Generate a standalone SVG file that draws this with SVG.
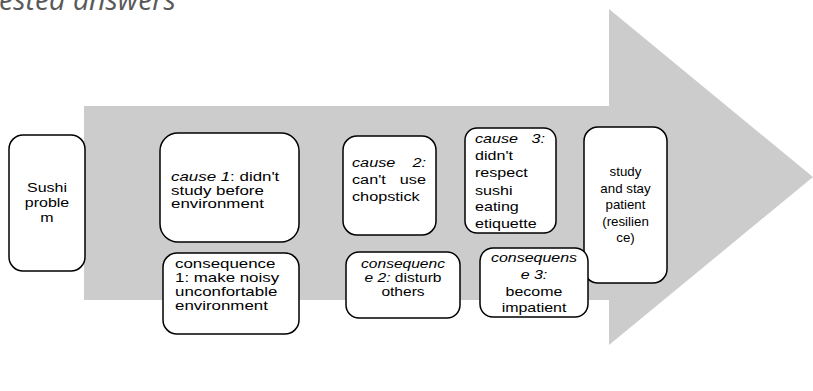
<svg xmlns="http://www.w3.org/2000/svg" width="813" height="391" viewBox="0 0 813 391">
<style>
.box{fill:#fff;stroke:#000;stroke-width:1.5}
.t{font-family:"Liberation Sans",Arial,sans-serif;font-size:13.3px;fill:#000}
.c{text-anchor:middle}
.e{text-anchor:end}
.i{font-style:italic}
.title{font-family:"Open Sans","Noto Sans",sans-serif;font-style:italic;font-size:28.5px;fill:#595959}
</style>
<rect width="813" height="391" fill="#fff"/>
<text class="title" x="-1" y="10">ested answers</text>
<g id="connectors">
<polygon points="84,106 609,106 609,9 813,177 609,345 609,300 84,300" fill="#cccccc"/>
</g>
<g id="sushi">
<rect class="box" x="9" y="135" width="76" height="136" rx="14"/>
<text class="t c" transform="translate(47,192) scale(1.2,1)">Sushi</text>
<text class="t c" transform="translate(47,207) scale(1.2,1)">proble</text>
<text class="t c" transform="translate(47,222) scale(1.2,1)">m</text>
</g>
<g id="cause1">
<rect class="box" x="160" y="133" width="139" height="109" rx="18"/>
<text class="t" transform="translate(171,181) scale(1.27,1)"><tspan class="i">cause 1</tspan>: didn't</text>
<text class="t" transform="translate(171,194.5) scale(1.27,1)">study before</text>
<text class="t" transform="translate(171,208) scale(1.27,1)">environment</text>
</g>
<g id="cons1">
<rect class="box" x="163" y="253" width="136" height="81" rx="14"/>
<text class="t" transform="translate(175,268) scale(1.27,1)">consequence</text>
<text class="t" transform="translate(175,282) scale(1.27,1)">1: make noisy</text>
<text class="t" transform="translate(175,296) scale(1.27,1)">unconfortable</text>
<text class="t" transform="translate(175,310) scale(1.27,1)">environment</text>
</g>
<g id="cause2">
<rect class="box" x="343" y="136" width="93" height="99" rx="14"/>
<text class="t i" transform="translate(352,167) scale(1.22,1)">cause</text>
<text class="t i e" transform="translate(426,167) scale(1.22,1)">2:</text>
<text class="t" transform="translate(352,184) scale(1.22,1)">can't</text>
<text class="t e" transform="translate(426,184) scale(1.22,1)">use</text>
<text class="t" transform="translate(352,201) scale(1.22,1)">chopstick</text>
</g>
<g id="cons2">
<rect class="box" x="346" y="252" width="114" height="66" rx="13"/>
<text class="t c i" transform="translate(403,268) scale(1.17,1)">consequenc</text>
<text class="t c" transform="translate(403,282) scale(1.17,1)"><tspan class="i">e 2:</tspan> disturb</text>
<text class="t c" transform="translate(403,296) scale(1.17,1)">others</text>
</g>
<g id="cause3">
<rect class="box" x="465" y="128" width="91" height="105" rx="12"/>
<text class="t i" transform="translate(475,143) scale(1.21,1)">cause</text>
<text class="t i e" transform="translate(545,143) scale(1.21,1)">3:</text>
<text class="t" transform="translate(475,160) scale(1.21,1)">didn't</text>
<text class="t" transform="translate(475,177) scale(1.21,1)">respect</text>
<text class="t" transform="translate(475,195) scale(1.21,1)">sushi</text>
<text class="t" transform="translate(475,211) scale(1.21,1)">eating</text>
<text class="t" transform="translate(475,228) scale(1.21,1)">etiquette</text>
</g>
<g id="study">
<rect class="box" x="584" y="127" width="83" height="156" rx="14"/>
<text class="t c" x="625.5"><tspan x="625.5" y="176">study</tspan><tspan x="625.5" y="192.5">and stay</tspan><tspan x="625.5" y="209">patient</tspan><tspan x="625.5" y="225.5">(resilien</tspan><tspan x="625.5" y="242">ce)</tspan></text>
</g>
<g id="cons3">
<rect class="box" x="480" y="248" width="108" height="69" rx="13"/>
<text class="t c i" transform="translate(534,262) scale(1.2,1)">consequens</text>
<text class="t c i" transform="translate(534,279) scale(1.2,1)">e 3:</text>
<text class="t c" transform="translate(534,296) scale(1.2,1)">become</text>
<text class="t c" transform="translate(534,312) scale(1.2,1)">impatient</text>
</g>
</svg>
